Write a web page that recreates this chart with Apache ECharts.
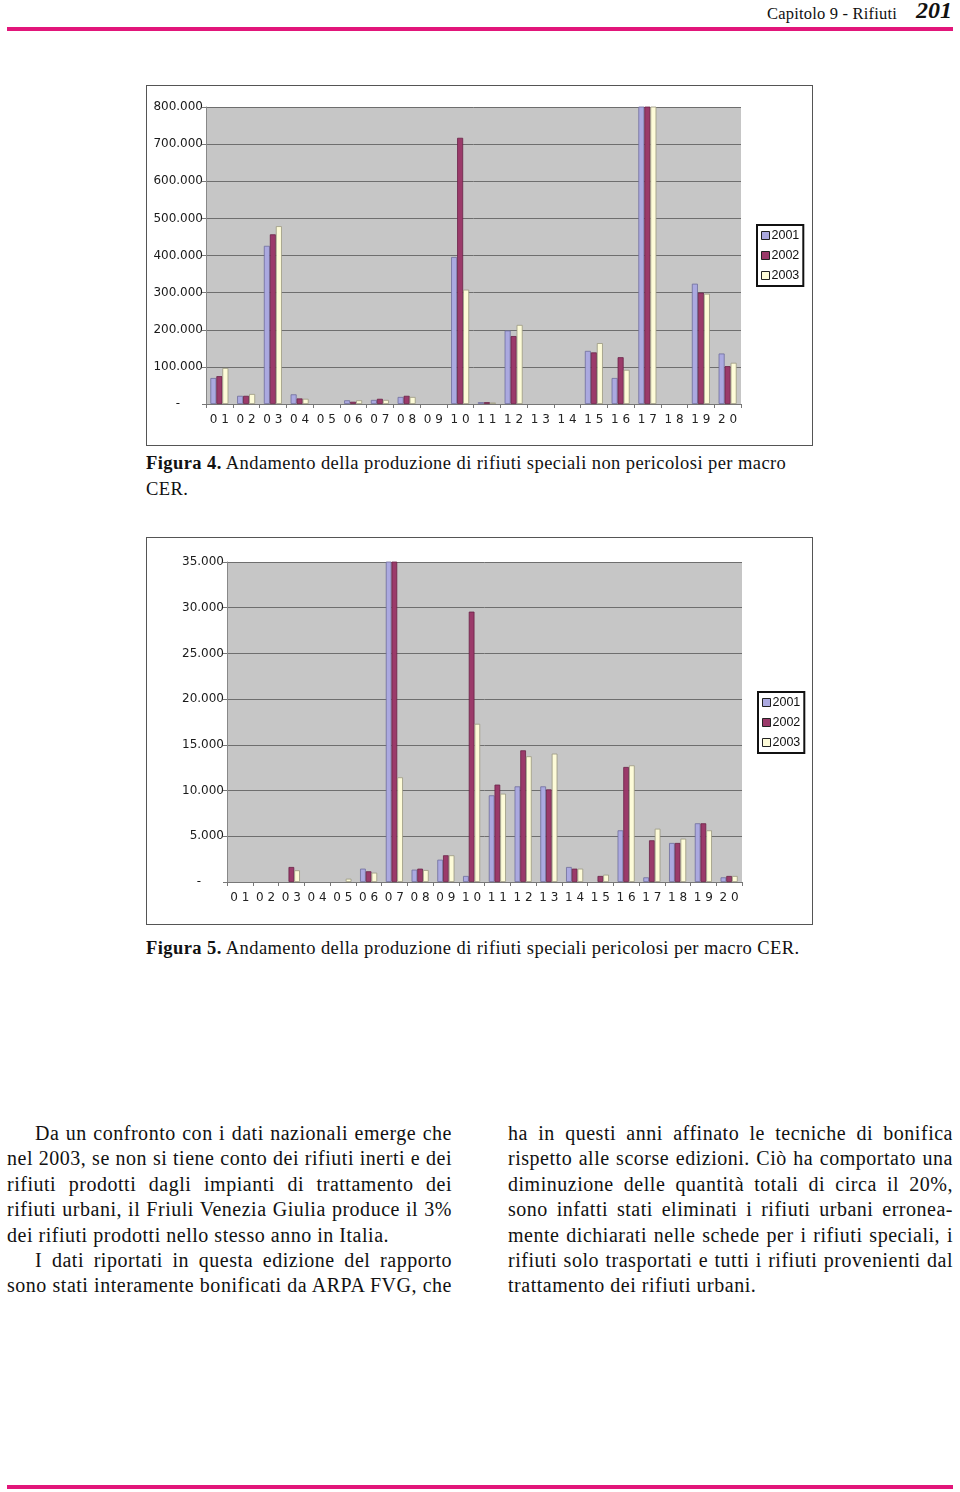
<!DOCTYPE html>
<html>
<head>
<meta charset="utf-8">
<script src="https://cdn.jsdelivr.net/npm/echarts@6/dist/echarts.min.js"></script>
<style>
  html, body { margin:0; padding:0; background:#fff; }
  body { width:960px; height:1492px; position:relative; overflow:hidden; font-family:"Liberation Serif", "DejaVu Serif", serif; color:#111; }
  .rule { position:absolute; left:7px; width:946px; height:4px; background:#e2167a; }
  .hdr1 { position:absolute; top:5px; right:63px; font-size:16.5px; line-height:18px; white-space:nowrap; letter-spacing:0.2px; }
  .hdr2 { position:absolute; top:-2px; right:8px; font-size:24px; line-height:24px; font-style:italic; font-weight:bold; white-space:nowrap; }
  .box { position:absolute; left:146px; width:665px; border:1px solid #555; background:#fff; }
  .cap { position:absolute; left:146px; width:700px; font-size:18.5px; line-height:26px; letter-spacing:0.42px; white-space:nowrap; }
  .col { position:absolute; top:1121px; width:445px; font-size:20px; line-height:25.4px; letter-spacing:0.52px; }
  .col div { text-align:justify; text-align-last:justify; white-space:nowrap; }
  .col div.last { text-align-last:left; }
  .col div.ind { padding-left:28px; }
</style>
</head>
<body>
<div class="hdr1">Capitolo 9 - Rifiuti</div>
<div class="hdr2">201</div>
<div class="rule" style="top:27px"></div>
<div class="rule" style="top:1485px"></div>

<div id="c1" class="box" style="top:85px;height:359px"></div>
<div class="cap" style="top:450px"><b>Figura 4.</b> Andamento della produzione di rifiuti speciali non pericolosi per macro<br>CER.</div>

<div id="c2" class="box" style="top:537px;height:386px"></div>
<div class="cap" style="top:935px"><b>Figura 5.</b> Andamento della produzione di rifiuti speciali pericolosi per macro CER.</div>

<div class="col" style="left:7px">
  <div class="ind">Da un confronto con i dati nazionali emerge che</div>
  <div>nel 2003, se non si tiene conto dei rifiuti inerti e dei</div>
  <div>rifiuti prodotti dagli impianti di trattamento dei</div>
  <div>rifiuti urbani, il Friuli Venezia Giulia produce il 3%</div>
  <div class="last">dei rifiuti prodotti nello stesso anno in Italia.</div>
  <div class="ind">I dati riportati in questa edizione del rapporto</div>
  <div>sono stati interamente bonificati da ARPA FVG, che</div>
</div>
<div class="col" style="left:508px">
  <div>ha in questi anni affinato le tecniche di bonifica</div>
  <div>rispetto alle scorse edizioni. Ciò ha comportato una</div>
  <div>diminuzione delle quantità totali di circa il 20%,</div>
  <div>sono infatti stati eliminati i rifiuti urbani erronea-</div>
  <div>mente dichiarati nelle schede per i rifiuti speciali, i</div>
  <div>rifiuti solo trasportati e tutti i rifiuti provenienti dal</div>
  <div class="last">trattamento dei rifiuti urbani.</div>
</div>

<script>
// ---- Data ----
const categories = ['01','02','03','04','05','06','07','08','09','10','11','12','13','14','15','16','17','18','19','20'];
const years = ['2001','2002','2003'];

// Figura 4 - non pericolosi (tonnellate)
const np2001 = [70000, 22000, 426000, 26000, 0, 10000, 11000, 19000, 0, 396000, 5000, 198000, 0, 0, 143000, 70000, 950000, 0, 324000, 136000];
const np2002 = [75000, 22000, 457000, 15000, 0, 6000, 14000, 22000, 0, 717000, 5000, 183000, 0, 0, 139000, 126000, 980000, 0, 300000, 102000];
const np2003 = [97000, 27000, 479000, 14000, 0, 10000, 11000, 19000, 0, 308000, 4000, 213000, 0, 0, 164000, 92000, 1000000, 0, 297000, 111000];

// Figura 5 - pericolosi (tonnellate)
const p2001 = [0, 0, 0, 0, 0, 1460, 36000, 1350, 2440, 660, 9480, 10460, 10460, 1640, 0, 5650, 510, 4270, 6420, 510];
const p2002 = [0, 0, 1640, 0, 0, 1170, 36000, 1460, 2920, 29570, 10650, 14400, 10130, 1460, 660, 12580, 4560, 4270, 6420, 660];
const p2003 = [0, 0, 1280, 0, 360, 1020, 11450, 1310, 2920, 17300, 9660, 13750, 14040, 1460, 800, 12760, 5830, 4740, 5650, 660];

const yTicks1 = [0, 100000, 200000, 300000, 400000, 500000, 600000, 700000, 800000];
const yTicks2 = [0, 5000, 10000, 15000, 20000, 25000, 30000, 35000];

// ---- Styling ----
const fills = ['#aba9e0', '#9b3a6a', '#fdfbd8'];
const borders = ['#6f6d9c', '#6a2246', '#9a9880'];

function itFmt(v) {
  if (v === 0) return '-      ';
  const s = String(Math.round(v));
  return s.replace(/\B(?=(\d{3})+(?!\d))/g, '.');
}

function makeOption(series, ticks, grid, legendPos, barW) {
  const step = ticks[1] - ticks[0];
  return {
    animation: false,
    grid: Object.assign({ show: true, backgroundColor: '#c6c6c6', borderWidth: 0 }, grid),
    legend: {
      orient: 'vertical',
      left: legendPos.left, top: legendPos.top,
      backgroundColor: '#fff', borderColor: '#111', borderWidth: 2,
      padding: [4, 4, 4, 4],
      itemWidth: 8, itemHeight: 8, itemGap: 7,
      textStyle: { fontFamily: 'Liberation Sans', fontSize: 12.5, color: '#111', padding: [0, 0, 0, -3] },
      data: years.map((y, i) => ({ name: y, icon: 'rect', itemStyle: { color: fills[i], borderColor: '#222', borderWidth: 1 } }))
    },
    xAxis: {
      type: 'category', data: categories,
      axisLine: { show: true, lineStyle: { color: '#777', width: 1 } },
      axisTick: { show: true, length: 4, lineStyle: { color: '#777' } },
      axisLabel: { margin: 10, fontFamily: 'DejaVu Sans', fontSize: 12, color: '#222',
                   formatter: s => s.split('').join(' ') }
    },
    yAxis: {
      type: 'value', min: ticks[0], max: ticks[ticks.length - 1], interval: step,
      axisLine: { show: true, lineStyle: { color: '#888' } },
      axisTick: { show: true, length: 4, lineStyle: { color: '#777' } },
      splitLine: { show: true, lineStyle: { color: '#6e6e6e', width: 1 } },
      axisLabel: { margin: 3, fontFamily: 'DejaVu Sans', fontSize: 12, color: '#1a1a1a', formatter: itFmt }
    },
    series: series.map((d, i) => ({
      name: years[i], type: 'bar', data: d.map(v => (v === 0 ? null : v)),
      barWidth: barW, barGap: '0%', clip: true,
      itemStyle: { color: fills[i], borderColor: borders[i], borderWidth: 0.8 }
    }))
  };
}

const ch1 = echarts.init(document.getElementById('c1'), null, { renderer: 'canvas' });
ch1.setOption(makeOption([np2001, np2002, np2003], yTicks1,
  { left: 59, right: 71, top: 21, bottom: 41 }, { left: 610, top: 139 }, 6));

const ch2 = echarts.init(document.getElementById('c2'), null, { renderer: 'canvas' });
ch2.setOption(makeOption([p2001, p2002, p2003], yTicks2,
  { left: 80, right: 70, top: 24, bottom: 42 }, { left: 611, top: 154 }, 5.7));
</script>
</body>
</html>
